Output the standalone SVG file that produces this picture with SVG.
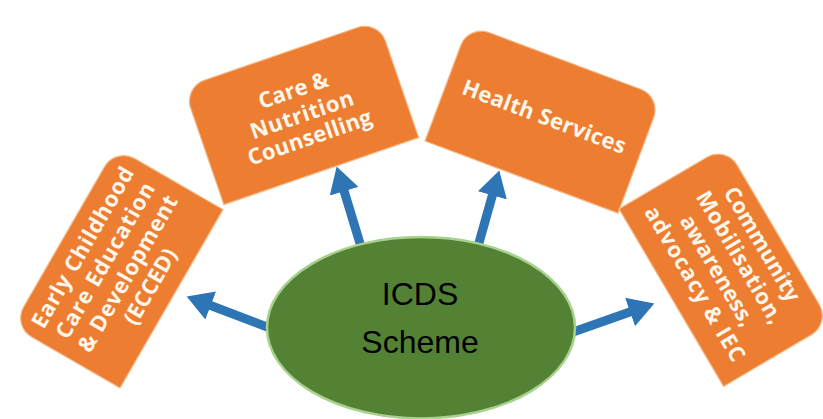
<svg xmlns="http://www.w3.org/2000/svg" width="823" height="419" viewBox="0 0 823 419">
  <style>
    .box { fill: #ED7D31; stroke: #F6B98A; stroke-width: 1.2; }
    .lbl { font-family: "Open Sans", "Liberation Sans", sans-serif; font-weight: 700; font-size: 22px; fill: #FFF6EA; text-anchor: middle; }
    .conn { stroke: #2E75B6; stroke-width: 9; fill: none; marker-end: url(#head); }
    .center { fill: #548235; stroke: #A9D18E; stroke-width: 2.5; }
    .clbl { font-family: "Liberation Sans", "Open Sans", sans-serif; font-size: 32px; fill: #000000; text-anchor: middle; }
  </style>
  <defs>
    <path id="card" d="M -103,62 L 103,62 L 103,-40 A 22 22 0 0 0 81,-62 L -81,-62 A 22 22 0 0 0 -103,-40 Z"/>
    <marker id="head" markerUnits="userSpaceOnUse" markerWidth="26" markerHeight="30" viewBox="0 0 24 28" refX="4" refY="14" orient="auto">
      <path d="M0,0 L24,14 L0,28 Z" fill="#2E75B6"/>
    </marker>
  </defs>
  <rect width="823" height="419" fill="#FFFFFF"/>

  <g id="node-ecced" transform="translate(117.8,267.8) rotate(-60)">
    <use href="#card" class="box"/>
    <text class="lbl" x="0" y="-33" textLength="182">Early Childhood</text>
    <text class="lbl" x="0" y="-7" textLength="176">Care Education</text>
    <text class="lbl" x="0" y="19" textLength="177">&amp; Development</text>
    <text class="lbl" x="0" y="45">(ECCED)</text>
  </g>

  <g id="node-care" transform="translate(301.1,112.5) rotate(-19)">
    <use href="#card" class="box"/>
    <text class="lbl" x="0" y="-16">Care &amp;</text>
    <text class="lbl" x="0" y="10" textLength="108">Nutrition</text>
    <text class="lbl" x="0" y="34" textLength="130">Counselling</text>
  </g>

  <g id="node-health" transform="translate(543.2,119) rotate(20.5)">
    <use href="#card" class="box"/>
    <text class="lbl" x="0" y="5" textLength="173">Health Services</text>
  </g>

  <g id="node-community" transform="translate(724.7,266.2) rotate(59.5)">
    <use href="#card" class="box"/>
    <text class="lbl" x="0" y="-36" textLength="129">Community</text>
    <text class="lbl" x="0" y="-10" textLength="150">Mobilisation,</text>
    <text class="lbl" x="0" y="16" textLength="125">awareness,</text>
    <text class="lbl" x="0" y="42" textLength="176">advocacy &amp; IEC</text>
  </g>

  <g id="connectors">
    <line class="conn" x1="275" y1="330" x2="206.7" y2="304"/>
    <line class="conn" x1="362" y1="250" x2="342.9" y2="187.1"/>
    <line class="conn" x1="477" y1="250" x2="493.5" y2="191.2"/>
    <line class="conn" x1="566" y1="334.5" x2="634.1" y2="310.6"/>
  </g>

  <g id="node-icds">
    <ellipse class="center" cx="421" cy="327.7" rx="154" ry="90.7"/>
    <text class="clbl" x="420" y="305">ICDS</text>
    <text class="clbl" x="420" y="353">Scheme</text>
  </g>
</svg>
